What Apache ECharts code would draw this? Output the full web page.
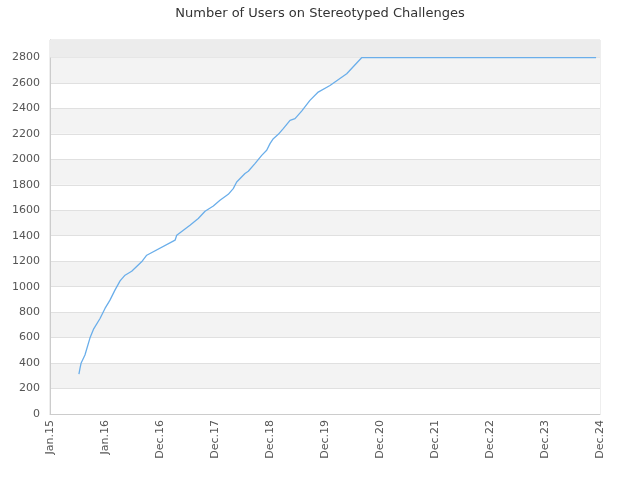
<!DOCTYPE html>
<html>
<head>
<meta charset="utf-8">
<script src="https://cdn.jsdelivr.net/npm/echarts@6/dist/echarts.min.js"></script>
<style>html,body{margin:0;padding:0;background:#fff}#c{width:640px;height:480px}</style>
</head>
<body>
<div id="c"></div>
<script>
const dates = ["2015-07-12","2015-07-19","2015-07-26","2015-08-21","2015-09-23","2015-10-16","2015-11-29","2016-01-01","2016-02-03","2016-03-07","2016-04-10","2016-05-13","2016-06-26","2016-08-31","2016-10-04","2017-04-10","2017-04-21","2017-06-04","2017-07-18","2017-09-11","2017-10-26","2017-12-20","2018-02-02","2018-03-29","2018-05-01","2018-05-24","2018-07-18","2018-08-09","2018-09-22","2018-11-06","2018-12-09","2018-12-20","2018-12-31","2019-01-22","2019-02-24","2019-03-29","2019-05-13","2019-06-15","2019-07-29","2019-09-22","2019-11-16","2020-02-02","2020-05-23","2020-08-30","2024-12-03"];
const users = [314,358,398,463,596,664,750,829,894,973,1045,1090,1121,1195,1247,1365,1404,1443,1482,1535,1592,1634,1678,1725,1770,1822,1888,1906,1966,2031,2071,2084,2123,2162,2196,2241,2306,2319,2379,2463,2528,2580,2672,2798,2798];
const yTicks = [0,200,400,600,800,1000,1200,1400,1600,1800,2000,2200,2400,2600,2800];
const months = ["Jan","Feb","Mar","Apr","May","Jun","Jul","Aug","Sep","Oct","Nov","Dec"];

const DAY = 86400000;
const origin = Date.UTC(2015,0,1);
function toDay(s){const p=s.split('-');return (Date.UTC(+p[0],+p[1]-1,+p[2])-origin)/DAY;}
const data = dates.map((d,i)=>[toDay(d), users[i]]);
const yMax = 2937;

const chart = echarts.init(document.getElementById('c'), null, {renderer:'canvas'});
chart.setOption({
  animation:false,
  textStyle:{fontFamily:'DejaVu Sans'},
  title:{text:'Number of Users on Stereotyped Challenges',left:'center',top:2,
    textStyle:{fontSize:13,fontWeight:'normal',color:'#333',fontFamily:'DejaVu Sans'}},
  grid:{left:50,right:40,top:40,bottom:66,show:true,borderColor:'#dddddd',borderWidth:1},
  xAxis:{type:'value',min:0,max:3650,interval:365,
    axisLine:{show:true,lineStyle:{color:'#cccccc'}},
    axisTick:{show:false},
    splitLine:{show:false},
    axisLabel:{rotate:90,fontSize:11,color:'#555',margin:6,
      formatter:function(v){const d=new Date(origin+v*DAY);return months[d.getUTCMonth()]+'.'+String(d.getUTCFullYear()).slice(2);}}},
  yAxis:{type:'value',min:0,max:yMax,interval:200,
    axisLine:{show:true,lineStyle:{color:'#cccccc'}},
    axisTick:{show:false},
    axisLabel:{fontSize:11,color:'#555',margin:10,showMaxLabel:false,
      formatter:function(v){return yTicks.indexOf(v)>=0?String(v):'';}},
    splitLine:{show:true,lineStyle:{color:'#e0e0e0'}},
    splitArea:{show:true,areaStyle:{color:['#ffffff','#f3f3f3']}}},
  series:[{type:'line',data:data,showSymbol:false,symbol:'none',
    lineStyle:{color:'#6aaeea',width:1.3},itemStyle:{color:'#6aaeea'},
    markArea:{silent:true,itemStyle:{color:'#ececec'},data:[[{yAxis:2800},{yAxis:yMax}]]}}]
});
</script>
</body>
</html>
